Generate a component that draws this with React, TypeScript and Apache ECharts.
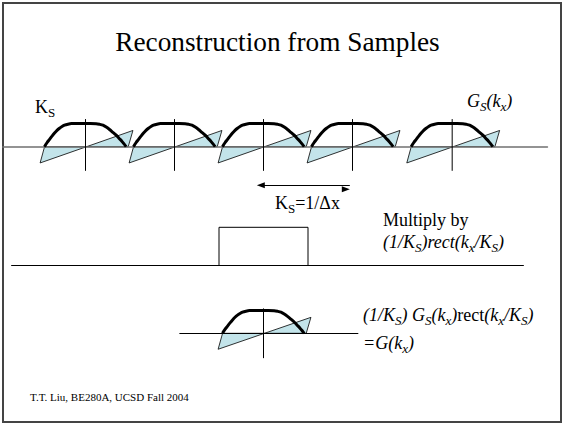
import React, { useEffect, useRef } from "react";
import * as echarts from "echarts";

const TITLE = "Reconstruction from Samples";
const FOOTER = "T.T. Liu, BE280A, UCSD Fall 2004";

// replica centres of G_S(k_x), in units of K_S
const copyCenters = [-2, -1, 0, 1, 2.12];
const baseCenter = [0];

// real part (thick black curve): offset from centre (K_S units) and amplitude
const curveKx = [
  -0.461, -0.433, -0.404, -0.376, -0.348, -0.32, -0.292, -0.264, -0.236, -0.197, -0.157, -0.101,
  0.056, 0.12, 0.157, 0.196, 0.233, 0.27, 0.307, 0.345, 0.376, 0.408, 0.433, 0.457,
];
const curveAmp = [
  0, 0.17, 0.315, 0.457, 0.586, 0.703, 0.797, 0.871, 0.927, 0.97, 0.996, 1.0,
  1.0, 0.99, 0.966, 0.927, 0.845, 0.741, 0.621, 0.496, 0.366, 0.237, 0.121, 0,
];

// imaginary part (shaded ramp)
const rampKx = [-0.46, -0.51, 0.533, 0.48];
const rampAmp = [0, -0.7, 0.7, 0];

// vertical axis extents (amplitude units)
const topVertical = [1.19, -1.04];
const bottomVertical = [1.09, -1.09];

// rect(k_x/K_S)
const rectKx = [-0.5, -0.5, 0.5, 0.5];
const rectAmp = [0, 1, 1, 0];

// K_S = 1/Δx arrow
const arrowKx = [-0.03, 0.97];
const arrowAmp = -1.665;

const FAMILY = "Liberation Serif";
const BLUE = "#c3e4ea";

const PX_KS = 89;
const X0 = 263.5;
function gridFor(kxMin: number, kxMax: number, axisY: number, ampMin: number, ampMax: number, pxAmp: number) {
  return {
    left: X0 + kxMin * PX_KS,
    width: (kxMax - kxMin) * PX_KS,
    top: axisY - ampMax * pxAmp,
    height: (ampMax - ampMin) * pxAmp,
    containLabel: false,
  };
}

const panels = [
  { kx: [-2.93, 3.19], axisY: 146.7, amp: [-1.8, 1.5], pxAmp: 23.2, axisColor: "#707070", axisWidth: 1.5 },
  { kx: [-2.83, 2.92], axisY: 265, amp: [-0.3, 1.2], pxAmp: 37.7, axisColor: "#000", axisWidth: 1.2 },
  { kx: [-0.94, 1.06], axisY: 333.3, amp: [-1.2, 1.2], pxAmp: 22.8, axisColor: "#000", axisWidth: 1.2 },
];

function rampSeries(gridIdx: number, centers: number[]) {
  return {
    type: "custom",
    xAxisIndex: gridIdx,
    yAxisIndex: gridIdx,
    z: 1,
    silent: true,
    data: centers.map((c) => [c, 0]),
    renderItem: (params: any, api: any) => {
      const c = api.value(0);
      const points = rampKx.map((dx, i) => api.coord([c + dx, rampAmp[i]]));
      return {
        type: "polygon",
        shape: { points },
        style: { fill: BLUE, stroke: "#000", lineWidth: 0.8 },
      };
    },
  };
}

function verticalSeries(gridIdx: number, centers: number[], ext: number[]) {
  return {
    type: "custom",
    xAxisIndex: gridIdx,
    yAxisIndex: gridIdx,
    z: 3,
    silent: true,
    data: centers.map((c) => [c, 0]),
    renderItem: (params: any, api: any) => {
      const c = api.value(0);
      const p1 = api.coord([c, ext[0]]);
      const p2 = api.coord([c, ext[1]]);
      return {
        type: "line",
        shape: { x1: p1[0], y1: p1[1], x2: p2[0], y2: p2[1] },
        style: { stroke: "#000", lineWidth: 1 },
      };
    },
  };
}

function curveSeries(gridIdx: number, centers: number[]) {
  return centers.map((c) => ({
    type: "line",
    xAxisIndex: gridIdx,
    yAxisIndex: gridIdx,
    z: 4,
    silent: true,
    symbol: "none",
    smooth: 0.3,
    lineStyle: { color: "#000", width: 3 },
    data: curveKx.map((dx, i) => [c + dx, curveAmp[i]]),
  }));
}

const rich: any = {
  n: { font: `18px ${FAMILY}`, fontFamily: FAMILY, fontSize: 18, lineHeight: 24, fill: "#000" },
  s: { font: `13px ${FAMILY}`, fontFamily: FAMILY, fontSize: 13, lineHeight: 15, verticalAlign: "bottom", fill: "#000" },
  i: { font: `italic 18px ${FAMILY}`, fontFamily: FAMILY, fontSize: 18, fontStyle: "italic", lineHeight: 24, fill: "#000" },
  is: { font: `italic 13px ${FAMILY}`, fontFamily: FAMILY, fontSize: 13, fontStyle: "italic", lineHeight: 15, verticalAlign: "bottom", fill: "#000" },
};

function richText(x: number, y: number, text: string) {
  return {
    type: "text",
    x,
    y,
    silent: true,
    style: { text, rich, font: `18px ${FAMILY}`, fontFamily: FAMILY, fontSize: 18, fill: "#000", align: "left", verticalAlign: "middle" },
  };
}

export default function App() {
  const ref = useRef<HTMLDivElement>(null);
  useEffect(() => {
    if (!ref.current) return;
    const chart = echarts.init(ref.current, undefined, { renderer: "svg" });
    const option: any = {
      animation: false,
      backgroundColor: "#fff",
      grid: panels.map((p) => gridFor(p.kx[0], p.kx[1], p.axisY, p.amp[0], p.amp[1], p.pxAmp)),
      xAxis: panels.map((p, i) => ({
        type: "value",
        gridIndex: i,
        min: p.kx[0],
        max: p.kx[1],
        z: 2,
        axisLine: { show: true, onZero: true, lineStyle: { color: p.axisColor, width: p.axisWidth } },
        axisTick: { show: false },
        axisLabel: { show: false },
        splitLine: { show: false },
      })),
      yAxis: panels.map((p, i) => ({
        type: "value",
        gridIndex: i,
        min: p.amp[0],
        max: p.amp[1],
        show: false,
        splitLine: { show: false },
      })),
      series: [
        rampSeries(0, copyCenters),
        verticalSeries(0, copyCenters, topVertical),
        ...curveSeries(0, copyCenters),
        {
          type: "line",
          xAxisIndex: 0,
          yAxisIndex: 0,
          data: [],
          silent: true,
          markLine: {
            silent: true,
            animation: false,
            symbol: ["triangle", "triangle"],
            symbolSize: [6, 8],
            symbolOffset: [0, 4],
            lineStyle: { color: "#000", width: 1.2, type: "solid" },
            label: { show: false },
            emphasis: { disabled: true },
            data: [[{ coord: [arrowKx[0], arrowAmp] }, { coord: [arrowKx[1], arrowAmp] }]],
          },
        },
        {
          type: "line",
          xAxisIndex: 1,
          yAxisIndex: 1,
          z: 3,
          silent: true,
          symbol: "none",
          lineStyle: { color: "#000", width: 1 },
          data: rectKx.map((x, i) => [x, rectAmp[i]]),
        },
        rampSeries(2, baseCenter),
        verticalSeries(2, baseCenter, bottomVertical),
        ...curveSeries(2, baseCenter),
      ],
      graphic: [
        {
          type: "rect",
          silent: true,
          shape: { x: 3, y: 3, width: 558, height: 419 },
          style: { fill: "none", stroke: "#444", lineWidth: 2 },
        },
        {
          type: "text",
          x: 277.5,
          y: 42,
          silent: true,
          style: { text: TITLE, fontFamily: FAMILY, fontSize: 27.3, fill: "#000", align: "center", verticalAlign: "middle" },
        },
        richText(35, 106.7, "{n|K}{s|S}"),
        richText(467, 101, "{i|G}{is|S}{i|(k}{is|x}{i|)}"),
        richText(275, 203.3, "{n|K}{s|S}{n|=1/Δx}"),
        richText(383, 219.7, "{n|Multiply by}"),
        richText(383, 242, "{i|(1/K}{is|S}{i|)rect(k}{is|x}{i|/K}{is|S}{i|)}"),
        richText(363, 314.5, "{i|(1/K}{is|S}{i|) G}{is|S}{i|(k}{is|x}{i|)}{n|rect}{i|(k}{is|x}{i|/K}{is|S}{i|)}"),
        richText(363, 343, "{i|=G(k}{is|x}{i|)}"),
        {
          type: "text",
          x: 30,
          y: 396.7,
          silent: true,
          style: { text: FOOTER, fontFamily: FAMILY, fontSize: 11, fill: "#000", align: "left", verticalAlign: "middle" },
        },
      ],
    };
    chart.setOption(option);
    return () => chart.dispose();
  }, []);
  return <div ref={ref} style={{ position: "fixed", left: 0, top: 0, width: 564, height: 424 }} />;
}
